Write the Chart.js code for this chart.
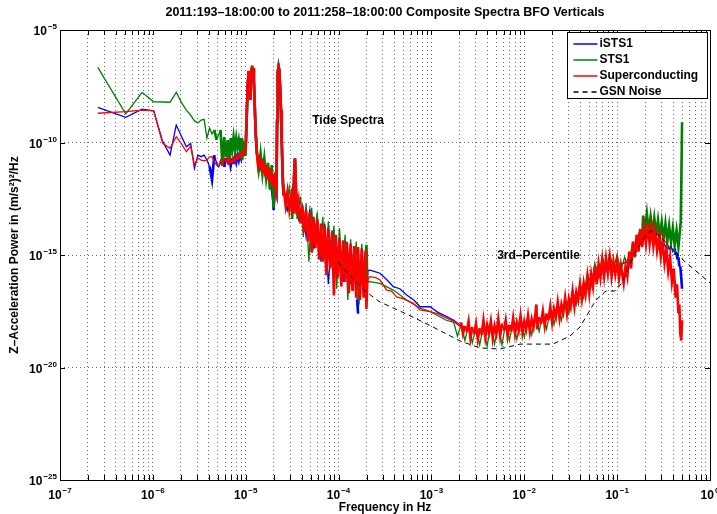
<!DOCTYPE html>
<html>
<head>
<meta charset="utf-8">
<script src="https://cdn.jsdelivr.net/npm/chart.js@4.4.1/dist/chart.umd.min.js"></script>
<style>
  html, body { margin: 0; padding: 0; background: #fff; }
  #wrap { width: 717px; height: 514px; }
</style>
</head>
<body>
<div id="wrap"><canvas id="spectra" width="717" height="514"></canvas></div>
<script>
// ---- data: [log10(frequency Hz), log10(power (m/s^2)^2/Hz)] ----
const ists1 = [
  [-6.593,-8.44],[-6.292,-8.88],[-6.116,-8.52],[-5.991,-8.59],[-5.894,-9.96],[-5.815,-10.56],[-5.748,-9.22],[-5.690,-9.74],[-5.639,-10.19],[-5.593,-10.04],
  [-5.552,-11.15],[-5.515,-10.56],[-5.480,-10.63],[-5.448,-10.56],[-5.418,-10.78],[-5.389,-11.07],[-5.363,-11.67],[-5.338,-10.56],[-5.314,-10.91],[-5.292,-11.07],
  [-5.271,-10.91],[-5.251,-10.78],[-5.232,-11.09],[-5.213,-10.69],[-5.195,-10.91],[-5.178,-10.64],[-5.162,-11.04],[-5.146,-10.73],[-5.131,-10.96],[-5.116,-10.6],
  [-5.102,-10.87],[-5.088,-10.56],[-5.075,-10.78],[-5.062,-10.47],[-5.049,-10.69],[-5.037,-10.42],[-5.025,-10.6],[-5.013,-10.33],[-5.002,-10.42],
  [-4.991,-9.1],[-4.980,-7.6],[-4.969,-6.84],[-4.959,-7.25],[-4.949,-8.1],[-4.940,-6.88],[-4.930,-6.62],[-4.921,-6.7],[-4.912,-7.25],[-4.903,-8.35],[-4.894,-9.45],
  [-4.88,-10.5],[-4.85,-11.2],[-4.82,-10.8],[-4.79,-11.5],[-4.76,-11.1],[-4.73,-11.9],[-4.70,-13.0],[-4.68,-11.6],[-4.675,-12.2],
  [-4.669,-12.3],[-4.662,-9.05],[-4.655,-6.9],[-4.646,-6.64],[-4.638,-6.8],[-4.629,-7.6],[-4.620,-8.6],[-4.612,-9.9],[-4.603,-11.4],[-4.594,-12.3],
  [-4.59,-12.0],[-4.55,-13.0],[-4.51,-12.3],[-4.48,-11.7],[-4.47,-10.7],[-4.46,-11.9],[-4.43,-13.4],[-4.39,-12.8],[-4.35,-14.2],[-4.31,-13.0],
  [-4.27,-14.6],[-4.23,-13.3],[-4.19,-15.3],[-4.15,-13.6],[-4.11,-16.3],[-4.07,-13.9],[-4.03,-15.8],[-3.99,-14.2],[-3.95,-16.2],[-3.91,-14.4],
  [-3.87,-16.3],[-3.83,-14.6],[-3.80,-17.0],[-3.79,-17.6],[-3.75,-14.7],[-3.71,-16.7],[-3.69,-15.7],
  [-3.662,-15.67],[-3.60,-15.75],[-3.554,-15.81],[-3.48,-16.1],[-3.411,-16.41],[-3.34,-16.5],[-3.267,-16.78],[-3.19,-17.0],[-3.123,-17.3],
  [-3.016,-17.3],[-2.93,-17.55],[-2.836,-17.74],[-2.76,-17.9],[-2.692,-18.11],
  [-2.6,-18.3],[-2.5,-18.4],[-2.4,-18.3],[-2.3,-18.2],[-2.2,-18.2],[-2.1,-18.1],[-2.0,-18.0],[-1.9,-17.95],[-1.8,-17.8],[-1.7,-17.6],
  [-1.6,-17.3],[-1.5,-17.0],[-1.4,-16.6],[-1.3,-16.1],[-1.2,-15.6],[-1.1,-15.4],[-1.0,-15.5],[-0.9,-15.3],[-0.8,-14.6],[-0.72,-13.8],
  [-0.7,-13.6],[-0.6,-13.8],[-0.56,-14.0],
  [-0.54,-14.3],[-0.52,-14.55],[-0.50,-14.4],[-0.48,-14.65],[-0.46,-14.5],[-0.44,-14.75],[-0.42,-14.6],[-0.40,-14.85],[-0.38,-14.7],[-0.37,-15.0],
  [-0.36,-14.9],[-0.35,-15.2],[-0.34,-15.1],[-0.33,-15.5],[-0.32,-15.5],[-0.31,-16.0],[-0.301,-16.5]
];

const sts1 = [
  [-6.593,-6.66],[-6.292,-8.73],[-6.116,-7.77],[-5.991,-8.19],[-5.894,-8.2],[-5.815,-8.21],[-5.748,-7.77],[-5.690,-8.24],[-5.639,-8.56],[-5.593,-8.78],
  [-5.552,-9.04],[-5.515,-9.13],[-5.480,-9.0],[-5.448,-8.97],[-5.418,-9.8],[-5.389,-9.36],[-5.363,-9.62],[-5.338,-9.44],[-5.314,-9.89],[-5.292,-9.67],
  [-5.271,-9.44],[-5.251,-11.04],[-5.232,-9.76],[-5.213,-10.64],[-5.195,-9.89],[-5.178,-10.91],[-5.162,-9.8],[-5.146,-10.33],[-5.131,-9.76],[-5.116,-10.33],
  [-5.102,-9.8],[-5.088,-10.2],[-5.075,-9.89],[-5.062,-10.33],[-5.049,-9.8],[-5.037,-10.78],[-5.025,-10.11],[-5.013,-10.33],[-5.002,-10.6],
  [-4.991,-9.2],[-4.980,-7.7],[-4.969,-6.85],[-4.959,-7.3],[-4.949,-8.0],[-4.940,-6.9],[-4.930,-6.58],[-4.921,-6.72],[-4.912,-7.3],[-4.903,-8.4],[-4.894,-9.5],
  [-4.88,-10.4],[-4.86,-11.2],[-4.84,-10.5],[-4.82,-11.4],[-4.80,-10.7],[-4.78,-11.6],[-4.76,-10.9],[-4.74,-12.1],[-4.72,-11.0],[-4.70,-12.9],
  [-4.68,-11.3],[-4.675,-12.2],
  [-4.669,-12.2],[-4.662,-9.1],[-4.655,-6.9],[-4.646,-6.6],[-4.638,-6.8],[-4.629,-7.6],[-4.620,-8.6],[-4.612,-9.9],[-4.603,-11.3],[-4.594,-12.2],
  [-4.59,-11.9],[-4.56,-12.9],[-4.53,-12.0],[-4.50,-13.4],[-4.48,-11.6],[-4.47,-10.75],[-4.46,-12.0],[-4.44,-13.4],[-4.41,-12.4],[-4.38,-14.2],
  [-4.35,-12.7],[-4.32,-15.3],[-4.29,-12.9],[-4.26,-14.7],[-4.23,-13.1],[-4.20,-15.2],[-4.17,-13.3],[-4.14,-15.6],[-4.11,-13.5],[-4.08,-15.4],
  [-4.05,-13.7],[-4.02,-16.5],[-3.99,-13.8],[-3.96,-16.0],[-3.93,-14.1],[-3.90,-17.0],[-3.87,-14.3],[-3.84,-16.6],[-3.81,-14.4],[-3.78,-17.2],
  [-3.75,-14.5],[-3.72,-16.8],[-3.70,-14.55],[-3.69,-16.2],
  [-3.662,-16.18],[-3.554,-16.26],[-3.411,-16.56],[-3.267,-17.0],[-3.123,-17.36],[-3.02,-17.5],[-2.93,-17.7],[-2.84,-17.9],
  [-2.76,-18.0],[-2.72,-18.6],[-2.68,-18.1],[-2.64,-18.8],[-2.60,-18.15],[-2.56,-18.9],[-2.52,-18.2],[-2.48,-19.0],[-2.44,-18.15],[-2.40,-19.05],
  [-2.36,-18.1],[-2.32,-18.95],[-2.28,-18.05],[-2.24,-19.0],[-2.20,-18.0],[-2.16,-18.8],[-2.12,-17.95],[-2.08,-18.75],[-2.04,-17.9],[-2.00,-18.65],
  [-1.96,-17.8],[-1.92,-18.55],[-1.88,-17.7],[-1.84,-18.4],[-1.80,-17.6],[-1.76,-18.3],[-1.72,-17.45],[-1.68,-18.1],[-1.64,-17.2],[-1.60,-17.9],
  [-1.56,-16.95],[-1.52,-17.6],[-1.48,-16.6],[-1.44,-17.2],[-1.40,-16.2],[-1.36,-16.9],[-1.32,-15.8],[-1.28,-16.4],[-1.24,-15.35],[-1.20,-16.0],
  [-1.16,-15.05],[-1.12,-15.7],[-1.08,-14.95],[-1.04,-15.6],[-1.00,-15.0],[-0.96,-15.7],[-0.92,-15.1],[-0.88,-15.5],[-0.84,-14.6],[-0.80,-14.9],
  [-0.76,-13.9],[-0.73,-14.2],[-0.72,-13.25],[-0.70,-13.9],[-0.68,-13.15],[-0.66,-13.95],[-0.64,-13.3],[-0.62,-14.05],[-0.60,-13.35],[-0.58,-14.1],
  [-0.56,-13.45],[-0.54,-14.2],[-0.52,-13.55],[-0.50,-14.3],[-0.48,-13.6],[-0.46,-14.4],[-0.44,-13.7],[-0.42,-14.45],[-0.40,-13.8],[-0.38,-14.55],
  [-0.36,-13.9],[-0.34,-14.65],[-0.325,-14.0],[-0.315,-13.5],[-0.308,-11.5],[-0.301,-9.1]
];

const superconducting = [
  [-6.593,-8.70],[-6.292,-8.63],[-6.116,-8.56],[-5.991,-8.59],[-5.894,-10.04],[-5.815,-10.26],[-5.748,-9.74],[-5.690,-10.07],[-5.639,-10.41],[-5.593,-10.16],
  [-5.552,-11.0],[-5.515,-10.70],[-5.480,-10.78],[-5.448,-10.81],[-5.418,-10.78],[-5.389,-10.64],[-5.363,-10.63],[-5.338,-10.86],[-5.314,-11.0],[-5.292,-11.07],
  [-5.271,-10.78],[-5.251,-10.96],[-5.232,-10.69],[-5.213,-10.87],[-5.195,-10.64],[-5.178,-11.0],[-5.162,-10.78],[-5.146,-10.91],[-5.131,-10.64],[-5.116,-10.82],
  [-5.102,-10.6],[-5.088,-10.78],[-5.075,-10.51],[-5.062,-10.69],[-5.049,-10.42],[-5.037,-10.6],[-5.025,-10.33],[-5.013,-10.51],[-5.002,-10.38],
  [-4.991,-9.0],[-4.980,-7.58],[-4.969,-6.82],[-4.959,-7.22],[-4.949,-8.11],[-4.940,-6.87],[-4.930,-6.6],[-4.921,-6.69],[-4.912,-7.22],[-4.903,-8.33],[-4.894,-9.44],
  [-4.88,-10.5],[-4.87,-10.9],[-4.86,-10.55],[-4.85,-11.1],[-4.84,-10.7],[-4.83,-11.3],[-4.82,-10.8],[-4.81,-11.35],[-4.80,-10.9],[-4.79,-11.5],
  [-4.78,-11.0],[-4.77,-11.6],[-4.76,-11.1],[-4.75,-11.7],[-4.74,-11.2],[-4.73,-11.8],[-4.72,-11.3],[-4.71,-11.95],[-4.70,-11.4],[-4.69,-12.0],
  [-4.68,-11.5],[-4.675,-12.2],
  [-4.669,-12.3],[-4.662,-9.0],[-4.655,-6.87],[-4.646,-6.63],[-4.638,-6.78],[-4.629,-7.58],[-4.620,-8.56],[-4.612,-9.89],[-4.603,-11.4],[-4.594,-12.3],
  [-4.59,-12.1],[-4.57,-12.8],[-4.55,-12.2],[-4.53,-13.0],[-4.51,-12.4],[-4.49,-13.1],[-4.48,-11.5],[-4.47,-10.7],[-4.46,-11.8],[-4.45,-13.2],
  [-4.43,-12.6],[-4.41,-13.6],[-4.39,-12.8],[-4.37,-14.0],[-4.35,-13.0],[-4.33,-14.4],[-4.31,-13.1],[-4.29,-14.9],[-4.27,-13.3],[-4.25,-14.7],
  [-4.23,-13.4],[-4.21,-15.2],[-4.19,-13.6],[-4.17,-15.3],[-4.15,-13.7],[-4.13,-15.9],[-4.11,-13.8],[-4.09,-15.6],[-4.07,-14.0],[-4.05,-16.8],
  [-4.03,-14.1],[-4.01,-16.0],[-3.99,-14.3],[-3.97,-16.4],[-3.95,-14.35],[-3.93,-16.2],[-3.91,-14.45],[-3.89,-16.7],[-3.87,-14.5],[-3.85,-16.6],
  [-3.83,-14.6],[-3.81,-16.9],[-3.79,-14.65],[-3.77,-17.0],[-3.75,-14.7],[-3.73,-16.9],[-3.71,-14.8],[-3.70,-17.4],[-3.69,-16.1],
  [-3.662,-15.96],[-3.60,-16.0],[-3.554,-16.11],[-3.482,-16.56],[-3.43,-16.6],[-3.374,-16.86],[-3.30,-16.95],[-3.195,-17.15],[-3.123,-17.44],[-3.016,-17.52],
  [-2.93,-17.62],[-2.836,-17.81],[-2.76,-17.95],[-2.70,-18.15],
  [-2.68,-18.0],[-2.66,-18.5],[-2.64,-18.15],[-2.62,-18.4],[-2.60,-17.95],[-2.58,-18.7],[-2.56,-18.2],[-2.54,-18.5],[-2.52,-18.05],[-2.50,-18.75],
  [-2.48,-18.25],[-2.46,-18.55],[-2.44,-17.9],[-2.42,-18.65],[-2.40,-18.1],[-2.38,-18.45],[-2.36,-17.95],[-2.34,-18.7],[-2.32,-18.15],[-2.30,-18.5],
  [-2.28,-17.85],[-2.26,-18.6],[-2.24,-18.05],[-2.22,-18.35],[-2.20,-17.9],[-2.18,-18.6],[-2.16,-18.1],[-2.14,-18.4],[-2.12,-17.8],[-2.10,-18.5],
  [-2.08,-18.0],[-2.06,-18.35],[-2.04,-17.7],[-2.02,-18.45],[-2.00,-17.95],[-1.98,-18.3],[-1.96,-17.7],[-1.94,-18.4],[-1.92,-17.85],[-1.90,-18.2],
  [-1.88,-17.6],[-1.87,-17.2],[-1.86,-18.3],[-1.84,-17.75],[-1.82,-18.05],[-1.80,-17.5],[-1.78,-18.15],[-1.76,-17.6],[-1.74,-17.9],[-1.72,-17.3],
  [-1.70,-18.0],[-1.68,-17.4],[-1.66,-17.75],[-1.64,-17.1],[-1.62,-17.8],[-1.60,-17.2],[-1.58,-17.55],[-1.56,-16.9],[-1.54,-17.6],[-1.52,-16.95],
  [-1.50,-17.3],[-1.48,-16.6],[-1.46,-17.3],[-1.44,-16.65],[-1.42,-17.0],[-1.40,-16.3],[-1.38,-16.95],[-1.36,-16.25],[-1.34,-16.75],[-1.32,-15.95],
  [-1.30,-16.7],[-1.28,-15.85],[-1.26,-16.4],[-1.24,-15.5],[-1.22,-16.3],[-1.20,-15.4],[-1.18,-16.0],[-1.16,-15.2],[-1.14,-15.95],[-1.12,-15.15],
  [-1.10,-15.8],[-1.08,-15.1],[-1.06,-15.95],[-1.04,-15.3],[-1.02,-15.85],[-1.00,-15.25],[-0.98,-16.05],[-0.96,-15.45],[-0.94,-16.0],[-0.93,-16.25],
  [-0.91,-15.5],[-0.89,-15.95],[-0.87,-14.85],[-0.85,-15.6],[-0.83,-14.4],[-0.81,-15.1],[-0.79,-14.1],[-0.77,-14.85],[-0.75,-13.85],[-0.73,-14.65],
  [-0.71,-13.75],[-0.69,-14.5],[-0.67,-13.65],[-0.65,-14.5],[-0.63,-13.75],[-0.61,-14.6],[-0.59,-13.95],[-0.57,-14.8],[-0.55,-14.2],[-0.53,-15.05],
  [-0.51,-14.4],[-0.49,-15.35],[-0.47,-14.75],[-0.45,-15.7],[-0.43,-15.1],[-0.41,-16.2],[-0.39,-15.6],[-0.37,-16.9],[-0.355,-16.3],[-0.34,-17.6],
  [-0.33,-17.2],[-0.32,-18.5],[-0.31,-18.8],[-0.301,-17.9]
];

const gsnNoise = [
  [-4.006,-15.31],[-3.877,-15.93],[-3.716,-16.6],[-3.554,-17.09],[-3.339,-17.49],[-3.199,-17.76],[-2.983,-18.2],[-2.692,-18.82],
  [-2.477,-19.13],[-2.262,-19.18],[-2.046,-18.96],[-1.691,-18.96],[-1.508,-18.6],[-1.400,-18.2],[-1.228,-17.0],[-1.120,-16.6],
  [-1.023,-16.6],[-0.948,-16.24],[-0.829,-15.09],[-0.689,-14.07],[-0.636,-13.93],[-0.539,-14.16],[-0.291,-15.22],[0,-16.24]
];

// axis ticks (powers of ten)
const xDecades = [-7, -6, -5, -4, -3, -2, -1, 0];
const yDecades = [-25, -20, -15, -10, -5];
const seriesLabels = ["iSTS1", "STS1", "Superconducting", "GSN Noise"];

const annotations = [
  { text: "Tide Spectra", f: 5.2e-5, p: 9e-10 },
  { text: "3rd\u2013Percentile", f: 5.1e-3, p: 9e-16 },
];

const FONT = '"Liberation Sans", Arial, Helvetica, sans-serif';

function toPoints(pairs) {
  return pairs.map(([lf, lp]) => ({ x: Math.pow(10, lf), y: Math.pow(10, lp) }));
}

// minor + major ticks on x, majors only on y
const xTickValues = [];
xDecades.forEach((e) => {
  if (e === 0) { xTickValues.push(1); return; }
  for (let m = 1; m <= 9; m++) xTickValues.push(m * Math.pow(10, e));
});
const yTickValues = yDecades.map((e) => Math.pow(10, e));

function drawPow(ctx, exp, x, y, align) {
  const base = "10";
  const sup = exp === 0 ? "0" : "\u2212" + Math.abs(exp);
  ctx.font = "bold 12px " + FONT;
  const bw = ctx.measureText(base).width;
  ctx.font = "bold 8px " + FONT;
  const sw = ctx.measureText(sup).width;
  const left = align === "right" ? x - bw - sw - 1 : x - (bw + sw + 1) / 2;
  ctx.textAlign = "left";
  ctx.textBaseline = "alphabetic";
  ctx.font = "bold 12px " + FONT;
  ctx.fillText(base, left, y);
  ctx.font = "bold 8px " + FONT;
  ctx.fillText(sup, left + bw + 1, y - 6);
}

// noisy stretches are drawn as steep zig-zags; thicken those so they read as a solid band
function segWidth(thin) {
  return (c) => {
    const dx = Math.abs(c.p1.x - c.p0.x);
    const dy = Math.abs(c.p1.y - c.p0.y);
    return dx < 2.5 && dy > 4 * dx ? 2.6 : thin;
  };
}

// --- plugin: frame, inward ticks, labels, legend, notes ---
const matlabFrame = {
  id: "matlabFrame",
  beforeDraw(chart) {
    const ctx = chart.ctx;
    ctx.save();
    ctx.fillStyle = "#fff";
    ctx.fillRect(0, 0, chart.width, chart.height);
    ctx.restore();
  },
  afterDraw(chart) {
    const ctx = chart.ctx;
    const a = chart.chartArea;
    const xs = chart.scales.x;
    const ys = chart.scales.y;
    ctx.save();
    ctx.fillStyle = "#000";
    ctx.strokeStyle = "#000";
    ctx.lineWidth = 1;

    // ticks
    ctx.beginPath();
    xTickValues.forEach((v) => {
      const px = Math.round(xs.getPixelForValue(v)) + 0.5;
      ctx.moveTo(px, a.bottom); ctx.lineTo(px, a.bottom - 5);
      ctx.moveTo(px, a.top); ctx.lineTo(px, a.top + 5);
    });
    yTickValues.forEach((v) => {
      const py = Math.round(ys.getPixelForValue(v)) + 0.5;
      ctx.moveTo(a.left, py); ctx.lineTo(a.left + 5, py);
      ctx.moveTo(a.right, py); ctx.lineTo(a.right - 5, py);
    });
    ctx.stroke();

    // box
    ctx.strokeRect(Math.round(a.left) + 0.5, Math.round(a.top) + 0.5,
      Math.round(a.right - a.left), Math.round(a.bottom - a.top));

    // tick labels
    xDecades.forEach((e) => drawPow(ctx, e, xs.getPixelForValue(Math.pow(10, e)), a.bottom + 19, "center"));
    yDecades.forEach((e) => drawPow(ctx, e, a.left - 3, ys.getPixelForValue(Math.pow(10, e)) + 5, "right"));

    // titles
    ctx.textAlign = "center";
    ctx.textBaseline = "middle";
    ctx.font = "bold 12.5px " + FONT;
    ctx.fillText("2011:193\u201318:00:00 to 2011:258\u201318:00:00 Composite Spectra BFO Verticals", (a.left + a.right) / 2, 13);
    ctx.font = "bold 12px " + FONT;
    ctx.fillText("Frequency in Hz", (a.left + a.right) / 2, a.bottom + 28);
    ctx.save();
    ctx.translate(15, (a.top + a.bottom) / 2);
    ctx.rotate(-Math.PI / 2);
    ctx.fillText("Z\u2013Acceleration Power in (m/s\u00b2)\u00b2/Hz", 0, 0);
    ctx.restore();

    // notes inside the plot
    ctx.textAlign = "left";
    annotations.forEach((n) => {
      ctx.fillText(n.text, xs.getPixelForValue(n.f), ys.getPixelForValue(n.p));
    });

    // legend
    const lx = 567.5, ly = 32.5, lw = 140, lh = 66;
    ctx.fillStyle = "#fff";
    ctx.fillRect(lx, ly, lw, lh);
    ctx.strokeStyle = "#000";
    ctx.lineWidth = 1;
    ctx.strokeRect(lx, ly, lw, lh);
    chart.data.datasets.forEach((ds, i) => {
      const ry = Math.round(ly + 11 + i * 16);
      ctx.save();
      ctx.strokeStyle = ds.borderColor;
      ctx.lineWidth = 1.5;
      ctx.setLineDash(ds.borderDash || []);
      ctx.beginPath();
      ctx.moveTo(lx + 6, ry);
      ctx.lineTo(lx + 30, ry);
      ctx.stroke();
      ctx.restore();
      ctx.fillStyle = "#000";
      ctx.font = "bold 12px " + FONT;
      ctx.textBaseline = "middle";
      ctx.fillText(ds.label, lx + 32, ry);
    });
    ctx.restore();
  },
};

const seriesData = [ists1, sts1, superconducting, gsnNoise];
const seriesColors = ["#0000ff", "#008000", "#ff0000", "#000000"];

new Chart(document.getElementById("spectra"), {
  type: "line",
  data: {
    datasets: seriesData.map((s, i) => ({
      label: seriesLabels[i],
      data: toPoints(s),
      borderColor: seriesColors[i],
      borderWidth: i === 3 ? 1 : 1.3,
      borderDash: i === 3 ? [5, 4] : [],
      segment: i === 3 ? undefined : { borderWidth: segWidth(1.3) },
      pointRadius: 0,
      tension: 0,
      fill: false,
      order: 4 - i,
    })),
  },
  options: {
    responsive: false,
    devicePixelRatio: 1,
    animation: false,
    events: [],
    layout: { padding: { top: 30, right: 7, bottom: 0, left: 0 } },
    plugins: { legend: { display: false }, tooltip: { enabled: false }, title: { display: false } },
    scales: {
      x: {
        type: "logarithmic",
        min: 1e-7,
        max: 1,
        afterBuildTicks: (s) => { s.ticks = xTickValues.map((v) => ({ value: v })); },
        afterFit: (s) => { s.height = 34; s.paddingLeft = 0; s.paddingRight = 0; },
        ticks: { display: false },
        grid: { color: "rgba(0,0,0,0.6)", lineWidth: 1, drawTicks: false },
        border: { display: false, dash: [1, 3] },
      },
      y: {
        type: "logarithmic",
        min: 1e-25,
        max: 1e-5,
        afterBuildTicks: (s) => { s.ticks = yTickValues.map((v) => ({ value: v })); },
        afterFit: (s) => { s.width = 60; s.paddingTop = 0; s.paddingBottom = 0; },
        ticks: { display: false },
        grid: { color: "rgba(0,0,0,0.6)", lineWidth: 1, drawTicks: false },
        border: { display: false, dash: [1, 3] },
      },
    },
  },
  plugins: [matlabFrame],
});
</script>
</body>
</html>
